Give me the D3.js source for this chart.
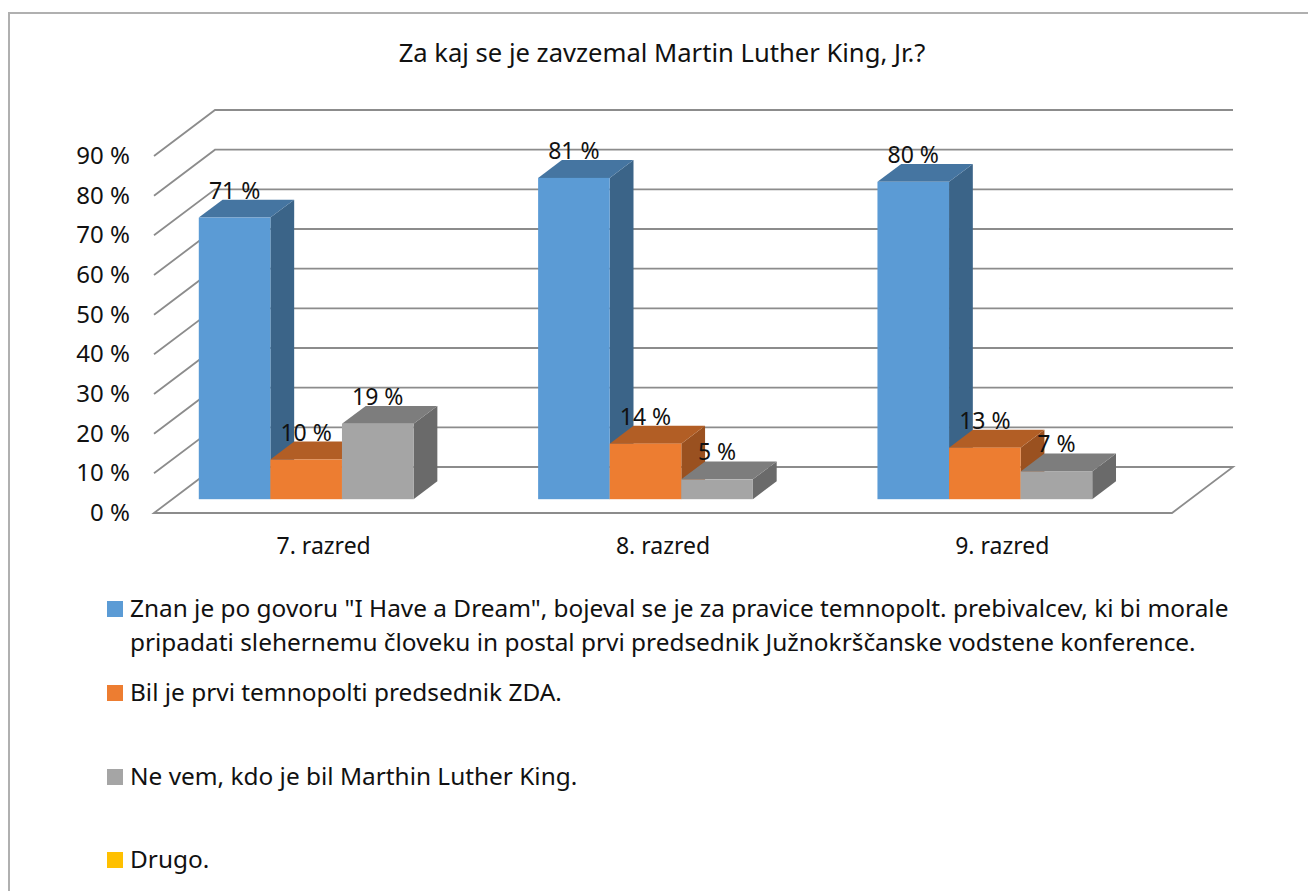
<!DOCTYPE html>
<html>
<head>
<meta charset="utf-8">
<script src="https://cdnjs.cloudflare.com/ajax/libs/d3/7.8.5/d3.min.js"></script>
<style>
  html, body { margin: 0; padding: 0; background: #fff; overflow: hidden; }
  svg { display: block; }
  text { font-family: "Noto Sans", "Open Sans", sans-serif; fill: #111; }
</style>
</head>
<body>
<svg id="chart" width="1308" height="891"></svg>
<script>
//Data
const chartTitle = "Za kaj se je zavzemal Martin Luther King, Jr.?";
const categories = ["7. razred", "8. razred", "9. razred"];
const seriesNames = ["Znan", "Bil", "NeVem", "Drugo"];
const znanValues = [71, 81, 80];
const bilValues = [10, 14, 13];
const neVemValues = [19, 5, 7];
const drugoValues = [null, null, null]; //in the legend, but no bars
const yTicks = [0, 10, 20, 30, 40, 50, 60, 70, 80, 90];
const legendLabels = [
  ["Znan je po govoru \"I Have a Dream\", bojeval se je za pravice temnopolt. prebivalcev, ki bi morale",
   "pripadati slehernemu človeku in postal prvi predsednik Južnokrščanske vodstene konference."],
  ["Bil je prvi temnopolti predsednik ZDA."],
  ["Ne vem, kdo je bil Marthin Luther King."],
  ["Drugo."]
];
const frontColors = ["#5b9bd5", "#ed7d31", "#a5a5a5", "#ffc000"];
const topColors = ["#4575a1", "#b25e25", "#7d7d7d", "#c19100"];
const sideColors = ["#3b6488", "#9a5120", "#6a6a6a", "#a37b00"];
const allValues = [znanValues, bilValues, neVemValues, drugoValues];

const svg = d3.select("#chart");

//Chart frame, only the top and left edges are in the picture
svg.append("path")
  .attr("d", "M9,891V13H1308")
  .attr("fill", "none")
  .attr("stroke", "#b0b0b0")
  .attr("stroke-width", 2);

//Title
svg.append("text")
  .attr("x", 662).attr("y", 62)
  .attr("text-anchor", "middle")
  .style("font-size", "25.6px")
  .text(chartTitle);

//Measuring data (in px)
const floorLeft = 154, floorRight = 1172;
const wallDx = 61, wallDy = -46;        //front edge of the floor to the back wall
const barPlane = 0.3, barDepth = 0.39;  //as fractions of the floor depth
const floorFrontY = 513;

//Scales
const yScale = d3.scaleLinear().domain([0, 90]).range([floorFrontY, 156]);
const xScale = d3.scaleBand().domain(categories).range([floorLeft, floorRight]);
const seriesScale = d3.scaleBand().domain(seriesNames)
  .range([0, xScale.bandwidth()])
  .paddingOuter(0.37)
  .paddingInner(0);

//Gridlines: side wall and back wall
const gridColor = "#8c8c8c";
const grid = svg.append("g")
  .attr("fill", "none")
  .attr("stroke", gridColor)
  .attr("stroke-width", 1.8);
grid.selectAll("path")
  .data(yTicks.slice(1))
  .enter()
  .append("path")
  .attr("d", (d) => `M${floorLeft},${yScale(d)}l${wallDx},${wallDy}H${floorRight + wallDx}`);

//Floor
grid.append("path")
  .attr("d", `M${floorLeft},${floorFrontY}l${wallDx},${wallDy}H${floorRight + wallDx}l${-wallDx},${-wallDy}Z`);

//Bars: front, top and side face of each one
const barDx = wallDx * barDepth, barDy = wallDy * barDepth;
const planeDx = wallDx * barPlane, planeDy = wallDy * barPlane;
const bars = [];
seriesNames.forEach((name, s) => {
  categories.forEach((cat, c) => {
    if (allValues[s][c] !== null) {
      bars.push({ s: s, cat: cat, name: name, value: allValues[s][c] });
    }
  });
});
//left to right, the side faces get covered by the next bar
bars.sort((a, b) => d3.ascending(categories.indexOf(a.cat), categories.indexOf(b.cat)) || a.s - b.s);

const barGroups = svg.append("g").selectAll("g")
  .data(bars)
  .enter()
  .append("g")
  .attr("transform", (d) => `translate(${xScale(d.cat) + seriesScale(d.name) + planeDx},${planeDy})`);

const barW = seriesScale.bandwidth();
barGroups.append("path")
  .attr("fill", (d) => sideColors[d.s])
  .attr("d", (d) => `M${barW},${yScale(d.value)}l${barDx},${barDy}V${floorFrontY + barDy}l${-barDx},${-barDy}Z`);
barGroups.append("path")
  .attr("fill", (d) => topColors[d.s])
  .attr("d", (d) => `M0,${yScale(d.value)}l${barDx},${barDy}h${barW}l${-barDx},${-barDy}Z`);
barGroups.append("rect")
  .attr("fill", (d) => frontColors[d.s])
  .attr("x", 0)
  .attr("y", (d) => yScale(d.value))
  .attr("width", barW)
  .attr("height", (d) => floorFrontY - yScale(d.value));

//Data labels, on top of every bar
svg.append("g").selectAll("text")
  .data(bars)
  .enter()
  .append("text")
  .attr("x", (d) => xScale(d.cat) + seriesScale(d.name) + planeDx + barW / 2)
  .attr("y", (d) => yScale(d.value) + planeDy - 19)
  .attr("text-anchor", "middle")
  .style("font-size", "23px")
  .text((d) => `${d.value} %`);

//Y axis labels
svg.append("g").selectAll("text")
  .data(yTicks)
  .enter()
  .append("text")
  .attr("x", 130)
  .attr("y", (d) => yScale(d) + 8)
  .attr("text-anchor", "end")
  .style("font-size", "24px")
  .text((d) => `${d} %`);

//X axis labels
svg.append("g").selectAll("text")
  .data(categories)
  .enter()
  .append("text")
  .attr("x", (d) => xScale(d) + xScale.bandwidth() / 2)
  .attr("y", 554)
  .attr("text-anchor", "middle")
  .style("font-size", "23px")
  .text((d) => d);

//Legend
const legendY = [609, 693, 777, 860];
const legend = svg.append("g").selectAll("g")
  .data(legendLabels)
  .enter()
  .append("g")
  .attr("transform", (d, i) => `translate(107,${legendY[i]})`);
legend.append("rect")
  .attr("x", 0).attr("y", -8)
  .attr("width", 16).attr("height", 16)
  .attr("fill", (d, i) => frontColors[i]);
legend.selectAll("text")
  .data((d) => d)
  .enter()
  .append("text")
  .attr("x", 23)
  .attr("y", (d, i) => 8 + i * 34)
  .style("font-size", "24.4px")
  .text((d) => d);
</script>
</body>
</html>
